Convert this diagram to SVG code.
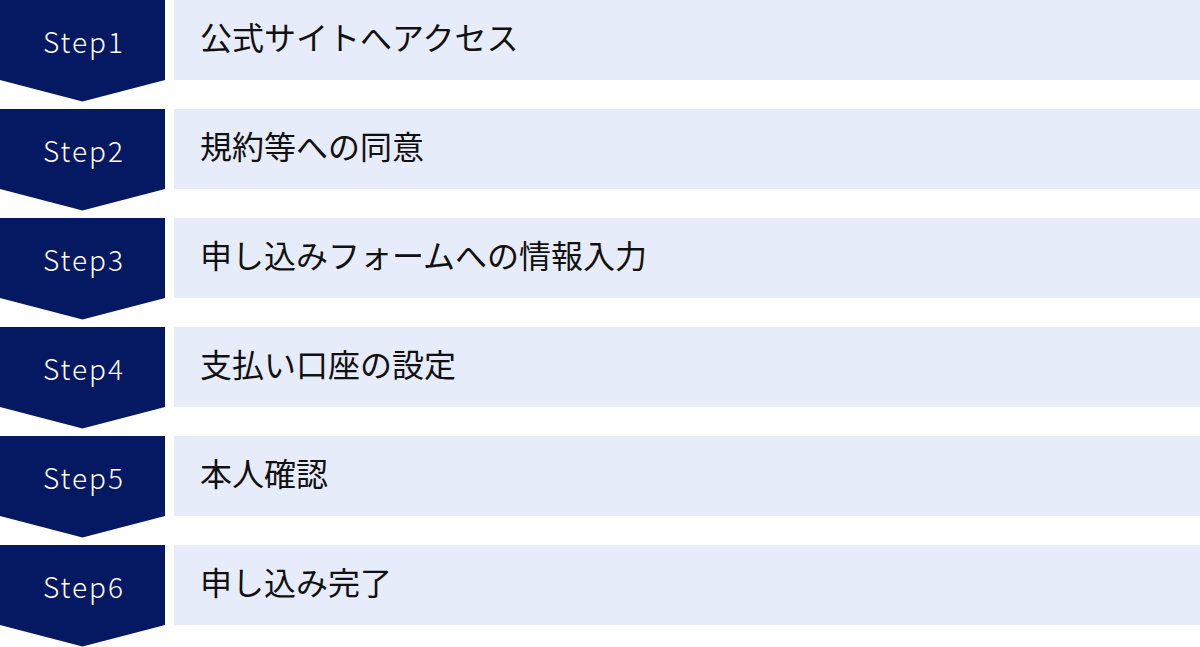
<svg xmlns="http://www.w3.org/2000/svg" width="1200" height="647" viewBox="0 0 1200 647">
<defs>
<style>
.chev{fill:#051862}
.box{fill:#e6ecf9}
.step{font-family:"Noto Sans CJK JP","Noto Sans",sans-serif;font-size:28px;font-weight:300;fill:#ffffff;text-anchor:middle;letter-spacing:2px}
.lbl{font-family:"Noto Sans CJK JP","Noto Sans",sans-serif;font-size:32px;fill:#111111}
</style>
<path id="chevShape" class="chev" d="M0 0H165V80L82.5 101.5L0 80Z"/>
</defs>
<rect width="1200" height="647" fill="#ffffff"/>
<g id="step1" transform="translate(0,0)">
<use href="#chevShape"/>
<rect class="box" x="174" y="0" width="1026" height="80"/>
<text class="step" x="84" y="53">Step1</text>
<text class="lbl" x="200" y="50">公式サイトへアクセス</text>
</g>
<g id="step2" transform="translate(0,109)">
<use href="#chevShape"/>
<rect class="box" x="174" y="0" width="1026" height="80"/>
<text class="step" x="84" y="53">Step2</text>
<text class="lbl" x="200" y="50">規約等への同意</text>
</g>
<g id="step3" transform="translate(0,218)">
<use href="#chevShape"/>
<rect class="box" x="174" y="0" width="1026" height="80"/>
<text class="step" x="84" y="53">Step3</text>
<text class="lbl" x="200" y="50">申し込みフォームへの情報入力</text>
</g>
<g id="step4" transform="translate(0,327)">
<use href="#chevShape"/>
<rect class="box" x="174" y="0" width="1026" height="80"/>
<text class="step" x="84" y="53">Step4</text>
<text class="lbl" x="200" y="50">支払い口座の設定</text>
</g>
<g id="step5" transform="translate(0,436)">
<use href="#chevShape"/>
<rect class="box" x="174" y="0" width="1026" height="80"/>
<text class="step" x="84" y="53">Step5</text>
<text class="lbl" x="200" y="50">本人確認</text>
</g>
<g id="step6" transform="translate(0,545)">
<use href="#chevShape"/>
<rect class="box" x="174" y="0" width="1026" height="80"/>
<text class="step" x="84" y="53">Step6</text>
<text class="lbl" x="200" y="50">申し込み完了</text>
</g>
<g id="connectors"></g>
</svg>
